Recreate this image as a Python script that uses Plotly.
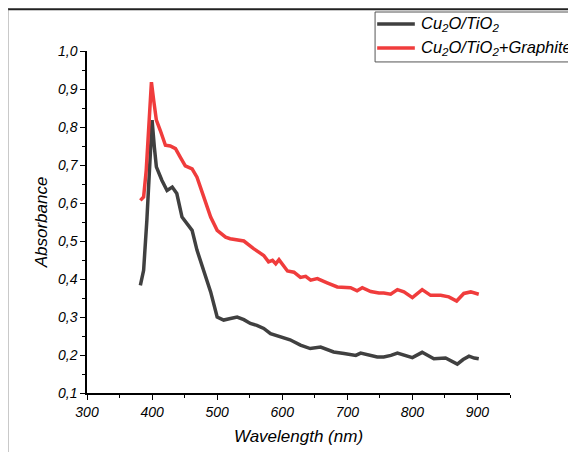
import plotly.graph_objects as go

# Cu2O/TiO2 (black)
wl_black = [382, 387, 392, 397, 400, 403.5, 406.6, 415, 423, 431, 438, 446, 454, 461.5, 469, 479, 490,
            500, 510, 520.5, 530.7, 541, 551, 561, 571.6, 582, 597, 612, 628, 643, 659, 679, 695, 713,
            720.5, 736, 746, 756, 767, 777, 787, 800, 815, 833, 851, 860, 869, 878, 887, 895, 902]
abs_black = [0.383, 0.423, 0.555, 0.73, 0.818, 0.747, 0.695, 0.66, 0.633, 0.642, 0.625, 0.563, 0.546,
             0.528, 0.476, 0.423, 0.366, 0.30, 0.292, 0.296, 0.30, 0.293, 0.283, 0.278, 0.27, 0.256,
             0.247, 0.24, 0.226, 0.217, 0.221, 0.208, 0.204, 0.199, 0.205, 0.199, 0.195, 0.195, 0.199,
             0.205, 0.2, 0.193, 0.207, 0.19, 0.192, 0.185, 0.176, 0.188, 0.197, 0.192, 0.19]

# Cu2O/TiO2+Graphite (red)
wl_red = [382, 387, 391, 395, 399, 402.5, 406.6, 412.8, 420.5, 428, 436, 443.5, 451, 461.5, 469, 479,
          490, 500, 513, 520, 536, 541, 556, 571.6, 579, 585, 590, 595, 608, 618, 628, 636, 643.7, 654,
          669, 684.6, 705, 715, 723, 736, 748.6, 756, 766.6, 777, 787, 800, 815, 828, 843.5, 856, 868,
          879, 889.7, 902]
abs_red = [0.607, 0.616, 0.686, 0.818, 0.918, 0.87, 0.818, 0.79, 0.752, 0.75, 0.743, 0.72, 0.698, 0.69,
           0.668, 0.618, 0.563, 0.528, 0.51, 0.506, 0.502, 0.5, 0.48, 0.462, 0.445, 0.449, 0.44, 0.451,
           0.421, 0.418, 0.404, 0.407, 0.397, 0.401, 0.39, 0.379, 0.377, 0.369, 0.377, 0.367, 0.363,
           0.363, 0.36, 0.372, 0.366, 0.351, 0.372, 0.357, 0.357, 0.353, 0.342, 0.362, 0.366, 0.36]

series_names = ["Cu<sub>2</sub>O/TiO<sub>2</sub>", "Cu<sub>2</sub>O/TiO<sub>2</sub>+Graphite"]
series_colors = ["#404040", "#f03c3c"]

x_ticks = [300, 400, 500, 600, 700, 800, 900]
y_ticks = [0.1, 0.2, 0.3, 0.4, 0.5, 0.6, 0.7, 0.8, 0.9, 1.0]

FONT = "Liberation Sans, Arial, sans-serif"

fig = go.Figure()
for xs, ys, name, color in [(wl_black, abs_black, series_names[0], series_colors[0]),
                            (wl_red, abs_red, series_names[1], series_colors[1])]:
    fig.add_trace(go.Scatter(x=xs, y=ys, mode="lines", name=name, showlegend=False,
                             line=dict(color=color, width=3.5)))

axis_common = dict(showline=True, linecolor="black", linewidth=1.5, ticks="outside", ticklen=5,
                   tickwidth=1.2, tickcolor="black", showgrid=False, zeroline=False, mirror=False,
                   automargin=False,
                   tickfont=dict(family=FONT, size=14, color="black", style="italic"))

fig.update_xaxes(range=[300, 950], tickvals=x_ticks, ticktext=[str(v) for v in x_ticks],
                 minor=dict(dtick=50, tick0=300, ticks="outside", ticklen=3, tickcolor="black"),
                 title=dict(text="Wavelength (nm)", standoff=12,
                            font=dict(family=FONT, size=17, color="black", style="italic")),
                 **axis_common)
fig.update_yaxes(range=[0.1, 1.0], tickvals=y_ticks, tickformat=".1f",
                 minor=dict(dtick=0.05, tick0=0.1, ticks="outside", ticklen=3, tickcolor="black"),
                 title=dict(text="Absorbance", standoff=6,
                            font=dict(family=FONT, size=17, color="black", style="italic")),
                 **axis_common)

# manual legend (box partly cut by the right edge, as in the reference)
shapes = [
    dict(type="line", xref="paper", yref="paper", x0=-0.187, x1=1.3, y0=1.122, y1=1.122,
         line=dict(color="#222222", width=2)),
    dict(type="line", xref="paper", yref="paper", x0=-0.187, x1=-0.187, y0=1.122, y1=-0.3,
         line=dict(color="#777777", width=1)),
    dict(type="rect", xref="paper", yref="paper", x0=0.681, x1=1.3, y0=0.968, y1=1.114,
         line=dict(color="#555555", width=1), fillcolor="white"),
]
annotations = []
legend_y = [1.079, 1.009]
for name, color, ly in zip(series_names, series_colors, legend_y):
    shapes.append(dict(type="line", xref="paper", yref="paper", x0=0.686, x1=0.775, y0=ly, y1=ly,
                       line=dict(color=color, width=3.5)))
    annotations.append(dict(text=name, xref="paper", yref="paper", x=0.785, y=ly,
                            xanchor="left", yanchor="middle", showarrow=False,
                            font=dict(family=FONT, size=16.5, color="black", style="italic")))

fig.update_layout(
    width=568, height=444,
    margin=dict(l=79, r=66, t=43, b=59, autoexpand=False),
    paper_bgcolor="white", plot_bgcolor="white",
    separators=",.",
    font=dict(family=FONT, color="black"),
    showlegend=False,
    shapes=shapes,
    annotations=annotations,
)

fig.write_html("out.html")
